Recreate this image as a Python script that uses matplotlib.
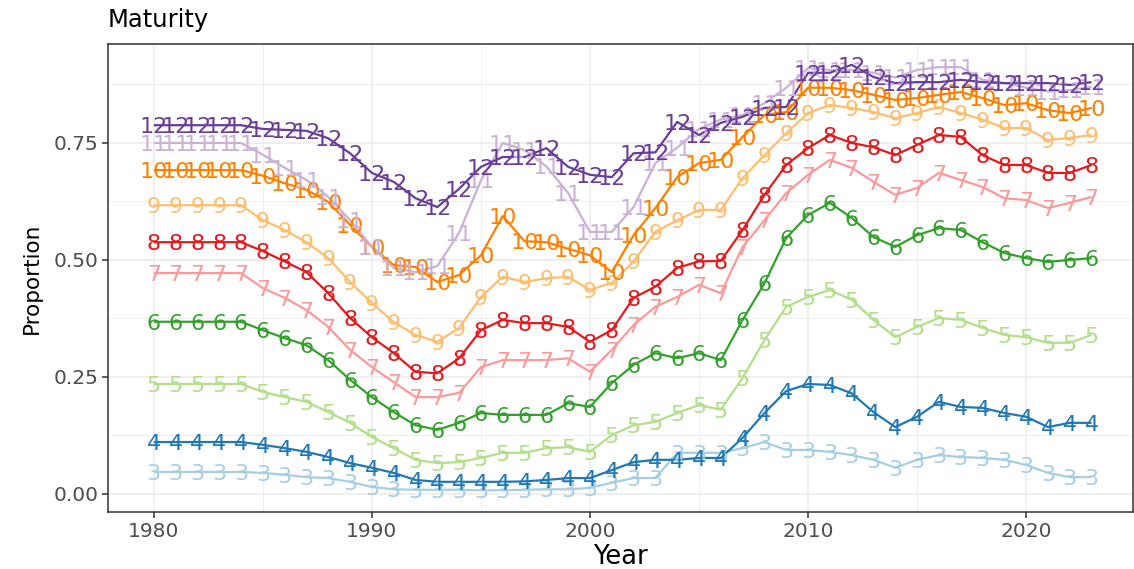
import matplotlib
matplotlib.use("Agg")
import matplotlib.pyplot as plt
import numpy as np
from matplotlib.ticker import MultipleLocator

plt.rcParams['font.family'] = ['DejaVu Sans']

years = list(range(1980, 2024))

s3 = [0.047, 0.047, 0.047, 0.047, 0.047, 0.045, 0.041, 0.036, 0.034, 0.026,
      0.015, 0.010, 0.009, 0.009, 0.009, 0.008, 0.008, 0.009, 0.010, 0.010,
      0.013, 0.024, 0.034, 0.034, 0.088, 0.088, 0.088, 0.098, 0.111, 0.094,
      0.094, 0.090, 0.083, 0.073, 0.056, 0.073, 0.083, 0.079, 0.077, 0.073,
      0.062, 0.045, 0.036, 0.036]
s4 = [0.111, 0.111, 0.111, 0.111, 0.111, 0.105, 0.098, 0.090, 0.079, 0.066,
      0.056, 0.045, 0.030, 0.026, 0.026, 0.026, 0.026, 0.027, 0.030, 0.034,
      0.034, 0.051, 0.068, 0.073, 0.073, 0.077, 0.077, 0.120, 0.173, 0.220,
      0.235, 0.233, 0.215, 0.175, 0.143, 0.165, 0.197, 0.186, 0.184, 0.173,
      0.165, 0.143, 0.152, 0.152]
s5 = [0.235, 0.235, 0.235, 0.235, 0.235, 0.218, 0.207, 0.197, 0.175, 0.152,
      0.122, 0.098, 0.073, 0.066, 0.068, 0.077, 0.088, 0.088, 0.098, 0.100,
      0.090, 0.126, 0.147, 0.154, 0.173, 0.190, 0.180, 0.248, 0.329, 0.400,
      0.421, 0.436, 0.415, 0.372, 0.335, 0.357, 0.376, 0.372, 0.355, 0.340,
      0.335, 0.323, 0.323, 0.340]
s6 = [0.368, 0.368, 0.368, 0.368, 0.368, 0.350, 0.333, 0.318, 0.286, 0.244,
      0.207, 0.175, 0.147, 0.137, 0.152, 0.173, 0.169, 0.169, 0.169, 0.194,
      0.186, 0.237, 0.276, 0.301, 0.290, 0.301, 0.286, 0.372, 0.450, 0.547,
      0.596, 0.622, 0.590, 0.549, 0.528, 0.553, 0.568, 0.564, 0.538, 0.515,
      0.504, 0.496, 0.500, 0.504]
s7 = [0.472, 0.472, 0.472, 0.472, 0.472, 0.440, 0.419, 0.393, 0.357, 0.308,
      0.271, 0.239, 0.207, 0.207, 0.216, 0.271, 0.286, 0.286, 0.286, 0.290,
      0.261, 0.308, 0.361, 0.400, 0.421, 0.447, 0.429, 0.528, 0.585, 0.643,
      0.682, 0.714, 0.697, 0.667, 0.639, 0.654, 0.686, 0.671, 0.656, 0.632,
      0.628, 0.611, 0.622, 0.635]
s8 = [0.538, 0.538, 0.538, 0.538, 0.538, 0.519, 0.497, 0.474, 0.429, 0.376,
      0.335, 0.301, 0.261, 0.258, 0.290, 0.350, 0.372, 0.365, 0.365, 0.357,
      0.325, 0.350, 0.419, 0.443, 0.483, 0.497, 0.498, 0.564, 0.639, 0.703,
      0.739, 0.767, 0.750, 0.741, 0.724, 0.746, 0.767, 0.763, 0.724, 0.703,
      0.703, 0.686, 0.686, 0.703]
s9 = [0.617, 0.617, 0.617, 0.617, 0.617, 0.585, 0.564, 0.538, 0.504, 0.453,
      0.408, 0.367, 0.340, 0.325, 0.355, 0.421, 0.464, 0.453, 0.461, 0.464,
      0.436, 0.451, 0.497, 0.560, 0.585, 0.607, 0.607, 0.675, 0.724, 0.771,
      0.814, 0.831, 0.825, 0.816, 0.803, 0.814, 0.827, 0.814, 0.800, 0.782,
      0.782, 0.756, 0.761, 0.767]
s10 = [0.692, 0.692, 0.692, 0.692, 0.692, 0.680, 0.664, 0.650, 0.624, 0.575,
       0.528, 0.489, 0.485, 0.453, 0.468, 0.510, 0.594, 0.540, 0.538, 0.524,
       0.510, 0.474, 0.553, 0.611, 0.677, 0.707, 0.714, 0.763, 0.810, 0.816,
       0.868, 0.868, 0.863, 0.853, 0.842, 0.846, 0.853, 0.859, 0.846, 0.831,
       0.835, 0.820, 0.814, 0.825]
s11 = [0.750, 0.750, 0.750, 0.750, 0.750, 0.725, 0.697, 0.671, 0.635, 0.585,
       0.528, 0.483, 0.474, 0.487, 0.558, 0.670, 0.750, 0.735, 0.700, 0.643,
       0.560, 0.560, 0.613, 0.707, 0.740, 0.780, 0.800, 0.810, 0.835, 0.868,
       0.910, 0.906, 0.906, 0.900, 0.890, 0.906, 0.912, 0.912, 0.885, 0.878,
       0.868, 0.860, 0.863, 0.870]
s12 = [0.788, 0.788, 0.788, 0.788, 0.788, 0.780, 0.778, 0.776, 0.760, 0.728,
       0.686, 0.667, 0.632, 0.613, 0.652, 0.699, 0.720, 0.720, 0.739, 0.699,
       0.682, 0.677, 0.728, 0.730, 0.795, 0.767, 0.793, 0.806, 0.825, 0.827,
       0.900, 0.900, 0.917, 0.891, 0.878, 0.880, 0.880, 0.885, 0.880, 0.878,
       0.878, 0.878, 0.874, 0.880]

labels = ['3', '4', '5', '6', '7', '8', '9', '10', '11', '12']
series = [s3, s4, s5, s6, s7, s8, s9, s10, s11, s12]
colors = ['#A6CEE3', '#1F78B4', '#B2DF8A', '#33A02C', '#FB9A99',
          '#E31A1C', '#FDBF6F', '#FF7F00', '#CAB2D6', '#6A3D9A']
xticks = [1980, 1990, 2000, 2010, 2020]
yticks = [0.00, 0.25, 0.50, 0.75]

W, H = 1134, 569
fig = plt.figure(figsize=(W / 100, H / 100), dpi=100)
ax = fig.add_axes([108 / W, 1 - 512 / H, (1133 - 108) / W, (512 - 44) / H])

for lab, vals, col in zip(labels, series, colors):
    ax.plot(years, vals, color=col, lw=1.6, zorder=3, solid_capstyle='butt')
for lab, vals, col in zip(labels, series, colors):
    for x, y in zip(years, vals):
        ax.text(x, y, lab, color=col, fontsize=16, ha='center',
                va='center_baseline', zorder=4)

ax.set_xlim(1977.9, 2024.9)
ax.set_ylim(-0.0385, 0.9615)
ax.set_xticks(xticks)
ax.set_yticks(yticks)
ax.set_yticklabels(['%.2f' % v for v in yticks])
ax.xaxis.set_minor_locator(MultipleLocator(5))
ax.yaxis.set_minor_locator(MultipleLocator(0.125))
ax.grid(which='major', color='#EBEBEB', lw=1.1, zorder=0)
ax.grid(which='minor', color='#EBEBEB', lw=0.6, zorder=0)
ax.set_axisbelow(True)
ax.tick_params(which='major', length=4, width=1.1, color='#333333',
               labelcolor='#4D4D4D', labelsize=14.5, pad=3)
ax.tick_params(which='minor', length=0)
for sp in ax.spines.values():
    sp.set_color('#333333')
    sp.set_linewidth(1.1)

ax.set_xlabel('Year', fontsize=18.5, color='black', labelpad=2)
ax.set_ylabel('Proportion', fontsize=15.5, color='black', labelpad=8)
fig.text(108 / W, 1 - 20 / H, 'Maturity', fontsize=17.5, ha='left', va='center')

fig.savefig('out.png', dpi=100)
